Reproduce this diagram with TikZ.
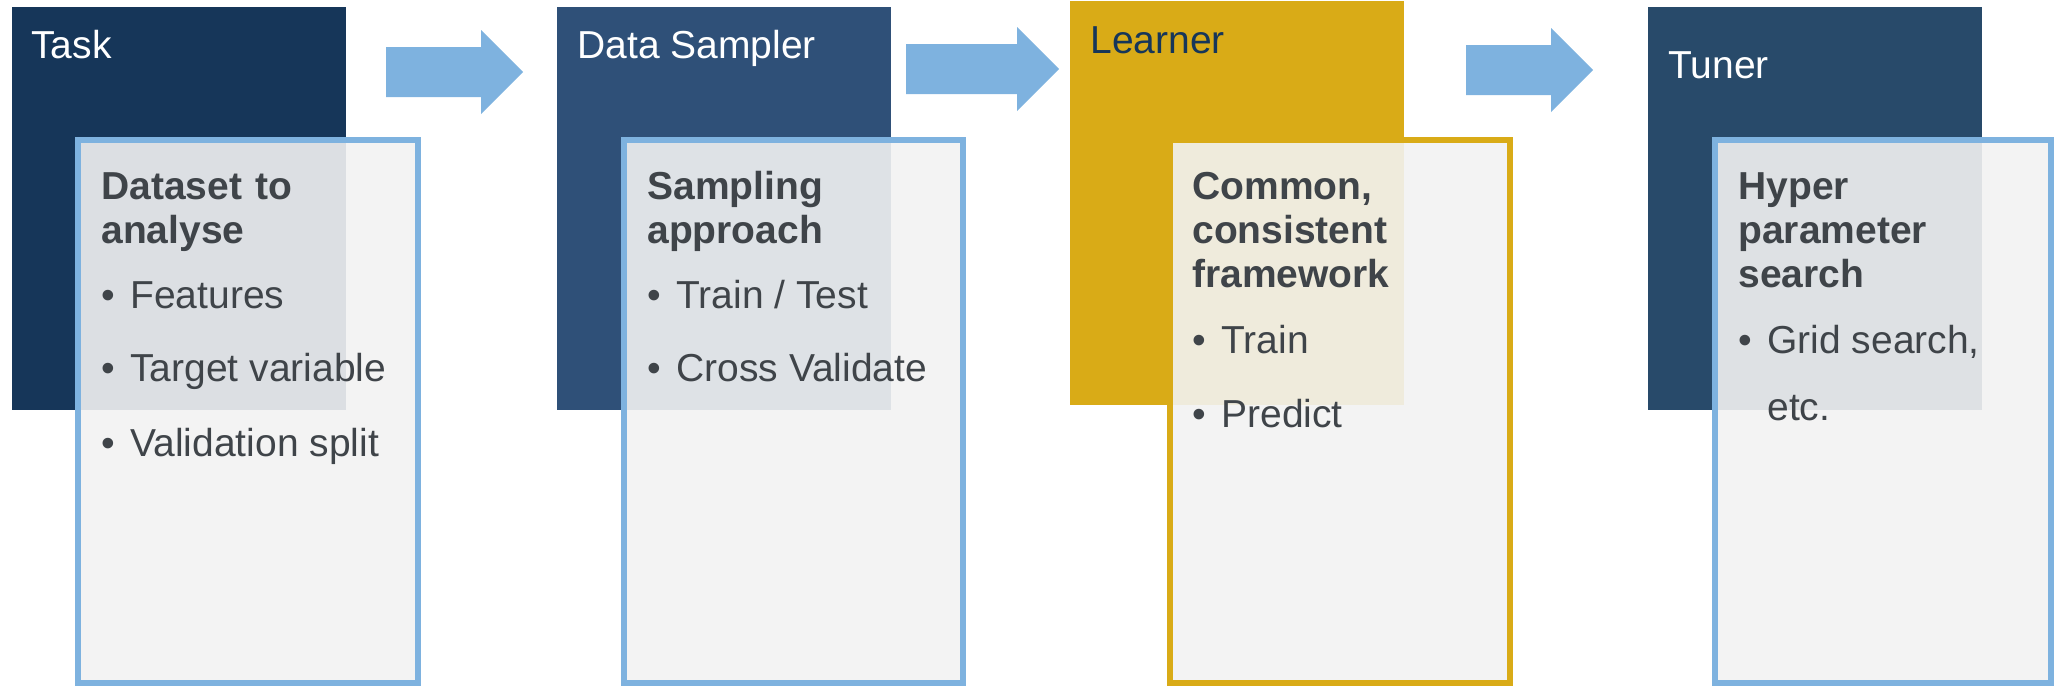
\documentclass[tikz,border=0pt]{standalone}
\usepackage{fontspec}
\setmainfont{Liberation Sans}
\usepackage{tikz}

\definecolor{taskblue}{HTML}{163659}
\definecolor{samplerblue}{HTML}{2F5078}
\definecolor{learnergold}{HTML}{D9AB17}
\definecolor{tunerblue}{HTML}{284A6A}
\definecolor{panelgray}{HTML}{F2F2F2}
\definecolor{edgeblue}{HTML}{7EB2DF}
\definecolor{inkgray}{HTML}{3F4449}

\tikzset{
  boxtitle/.style={anchor=base west, inner sep=0pt, text=white, font=\fontsize{19.5}{22}\selectfont},
  boxhead/.style={anchor=base west, inner sep=0pt, text=inkgray, text width=170pt, align=left, font=\fontsize{19.5}{22}\selectfont\bfseries},
  listitem/.style={anchor=base west, inner sep=0pt, text=inkgray, font=\fontsize{19.5}{22}\selectfont},
  panel/.style={fill=panelgray, fill opacity=0.9, line width=3pt}
}
\newcommand{\bul}{\makebox[14.5pt][l]{\textbullet}}
\newcommand{\bigarrow}[3]{\fill[edgeblue] (#1,#2-25) -- (#3-42,#2-25) -- (#3-42,#2-42) -- (#3,#2)
  -- (#3-42,#2+42) -- (#3-42,#2+25) -- (#1,#2+25) -- cycle;}

\begin{document}
\begin{tikzpicture}[x=0.5pt, y=-0.5pt]
    \useasboundingbox (0,0) rectangle (2054,686);

    % Task
    \fill[taskblue] (12,7) rectangle (346,410);
    \draw[panel, draw=edgeblue] (78,140) rectangle (418,683);
    \node[boxtitle] (task) at (31,58) {Task};
    \node[boxhead] (task-head) at (101,199) {Dataset to\\analyse};
    \node[listitem] (task-a) at (101,308) {\bul Features};
    \node[listitem] (task-b) at (101,381) {\bul Target variable};
    \node[listitem] (task-c) at (101,456) {\bul Validation split};

    \bigarrow{386}{72}{523}

    % Data Sampler
    \fill[samplerblue] (557,7) rectangle (891,410);
    \draw[panel, draw=edgeblue] (624,140) rectangle (963,683);
    \node[boxtitle] (sampler) at (577,58) {Data Sampler};
    \node[boxhead] (sampler-head) at (647,199) {Sampling\\approach};
    \node[listitem] (sampler-a) at (647,308) {\bul Train / Test};
    \node[listitem] (sampler-b) at (647,381) {\bul Cross Validate};

    \bigarrow{906}{69}{1059}

    % Learner
    \fill[learnergold] (1070,1) rectangle (1404,405);
    \draw[panel, draw=learnergold] (1170,140) rectangle (1510,683);
    \node[boxtitle, text=taskblue] (learner) at (1090,53) {Learner};
    \node[boxhead] (learner-head) at (1192,199) {Common,\\consistent\\framework};
    \node[listitem] (learner-a) at (1192,353) {\bul Train};
    \node[listitem] (learner-b) at (1192,427) {\bul Predict};

    \bigarrow{1466}{70}{1593}

    % Tuner
    \fill[tunerblue] (1648,7) rectangle (1982,410);
    \draw[panel, draw=edgeblue] (1715,140) rectangle (2051,683);
    \node[boxtitle] (tuner) at (1668,78) {Tuner};
    \node[boxhead] (tuner-head) at (1738,199) {Hyper\\parameter\\search};
    \node[listitem] (tuner-a) at (1738,353) {\bul\parbox[t]{150pt}{Grid search,\\[11.5pt]etc.}};
\end{tikzpicture}
\end{document}
